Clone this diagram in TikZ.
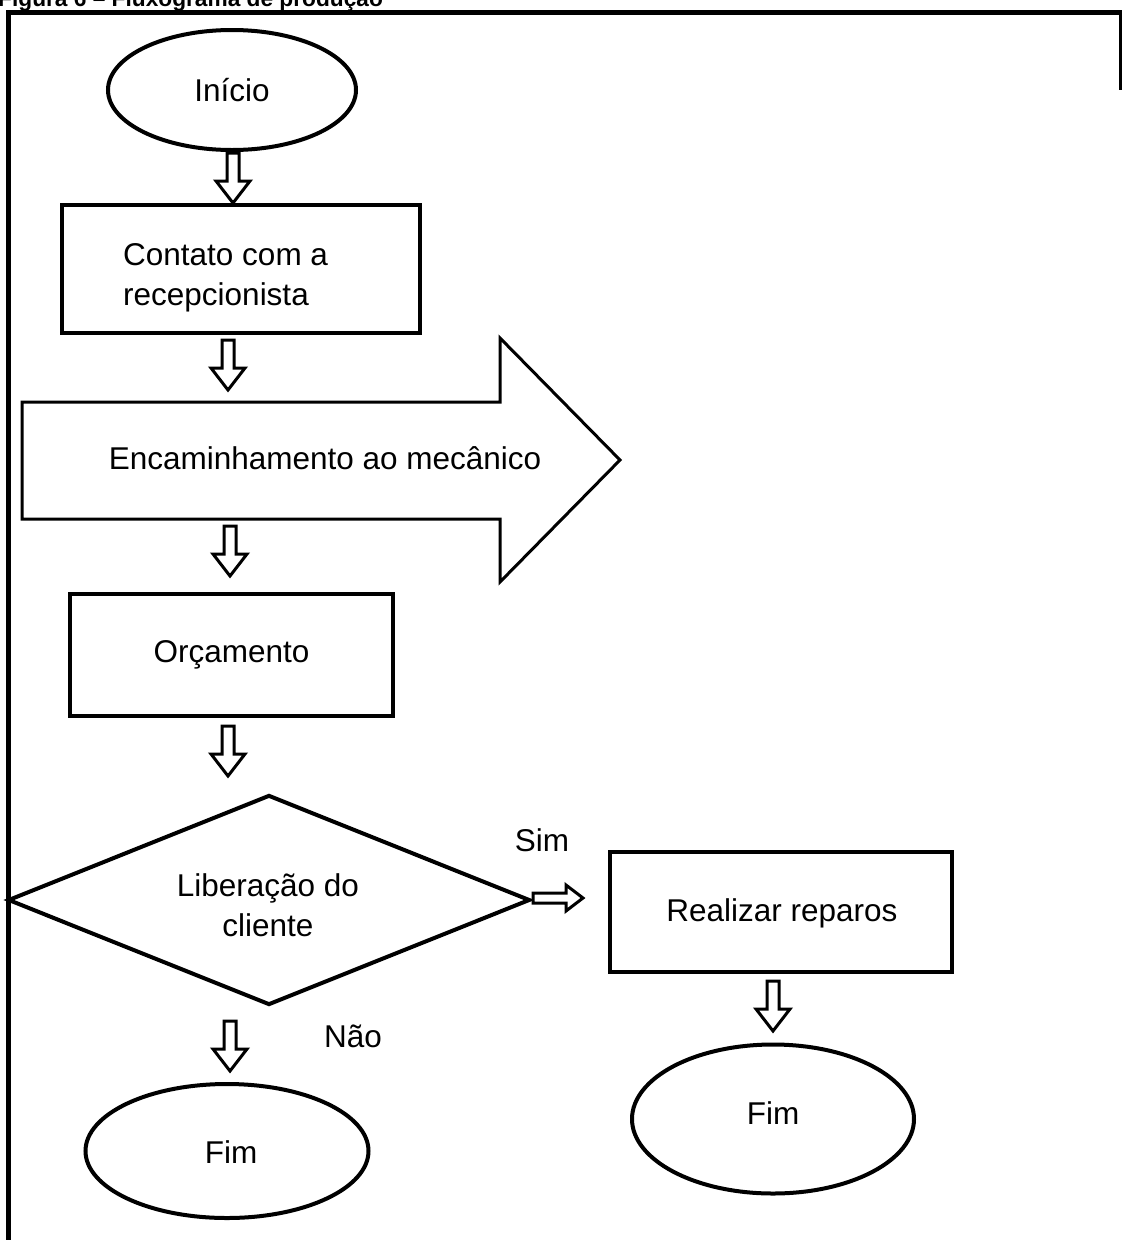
\documentclass[tikz,border=0pt]{standalone}
\usepackage{fontspec}
\setmainfont{Liberation Sans}
\usetikzlibrary{shapes.geometric, calc}
\tikzset{
  darrow/.pic={\draw[line width=3pt, line join=miter, fill=white]
     (-6,-25) -- (6,-25) -- (6,3) -- (17,3) -- (0,25) -- (-17,3) -- (-6,3) -- cycle;},
  rarrow/.pic={\draw[line width=3pt, line join=miter, fill=white]
     (-25,-5) -- (8,-5) -- (8,-13) -- (25,0) -- (8,13) -- (8,5) -- (-25,5) -- cycle;},
}
\begin{document}
\begin{tikzpicture}[x=1pt, y=-1pt,
  txt/.style={font=\fontsize{31.5}{40}\selectfont, inner sep=0pt},
  box/.style={draw, line width=4pt, rectangle, inner sep=0pt, txt},
  oval/.style={draw, line width=4pt, ellipse, inner sep=0pt, txt},
  decision/.style={draw, line width=4pt, diamond, aspect=2.5, inner sep=0pt, align=center, txt},
  bigarrow/.style={draw, line width=3pt, line join=miter},
  frame/.style={line width=5pt}
]
\useasboundingbox (0,0) rectangle (1122,1240);

% clipped caption (cut off at the top edge, as in the source)
\begin{scope}
  \clip (0,0) rectangle (1122,1240);
  \node[anchor=base west, inner sep=0pt, font=\bfseries\fontsize{22.7}{27}\selectfont] (cap) at (-2,6) {Figura 6 -- Fluxograma de produção};
\end{scope}

% frame
\draw[frame] (8,1242) -- (8,12) -- (1124,12);
\draw[line width=3pt] (1120,12) -- (1120,90);

% nodes
\node[oval, minimum width=248pt, minimum height=120pt] (inicio) at (232,90) {Início};
\node[box, minimum width=358pt, minimum height=128pt] (contato) at (241,269) {};
\node[txt, anchor=west, align=left] (contatotxt) at (123,278) {Contato com a\\recepcionista};

\draw[bigarrow] (22,402) -- (500,402) -- (500,338) -- (620,460) -- (500,582) -- (500,519) -- (22,519) -- cycle;
\node[txt] (enc) at (325,458) {Encaminhamento ao mecânico};

\node[box, minimum width=323pt, minimum height=122pt] (orc) at (231.5,655) {Orçamento};
\node[decision, minimum width=522pt, minimum height=210pt] (lib) at (269,900) {};
\node[txt, align=center] (libtxt) at (268,905) {Liberação do\\cliente};
\node[box, minimum width=342pt, minimum height=120pt] (rep) at (781,912) {};
\node[txt] (reptxt) at (782,913) {Realizar reparos};
\node[oval, minimum width=283pt, minimum height=134pt] (fim1) at (227,1151) {};
\node[txt] (fim1txt) at (231,1152) {Fim};
\node[oval, minimum width=282pt, minimum height=149pt] (fim2) at (773,1119) {};
\node[txt] (fim2txt) at (773,1113) {Fim};

\node[txt] (sim) at (542,840) {Sim};
\node[txt] (nao) at (353,1036) {Não};

% connectors (hollow block arrows)
\pic at (233,178) {darrow};
\pic at (228,365) {darrow};
\pic at (230,551) {darrow};
\pic at (228,751) {darrow};
\pic at (230,1046) {darrow};
\pic at (773,1006) {darrow};
\pic at (558,898) {rarrow};
\end{tikzpicture}
\end{document}
